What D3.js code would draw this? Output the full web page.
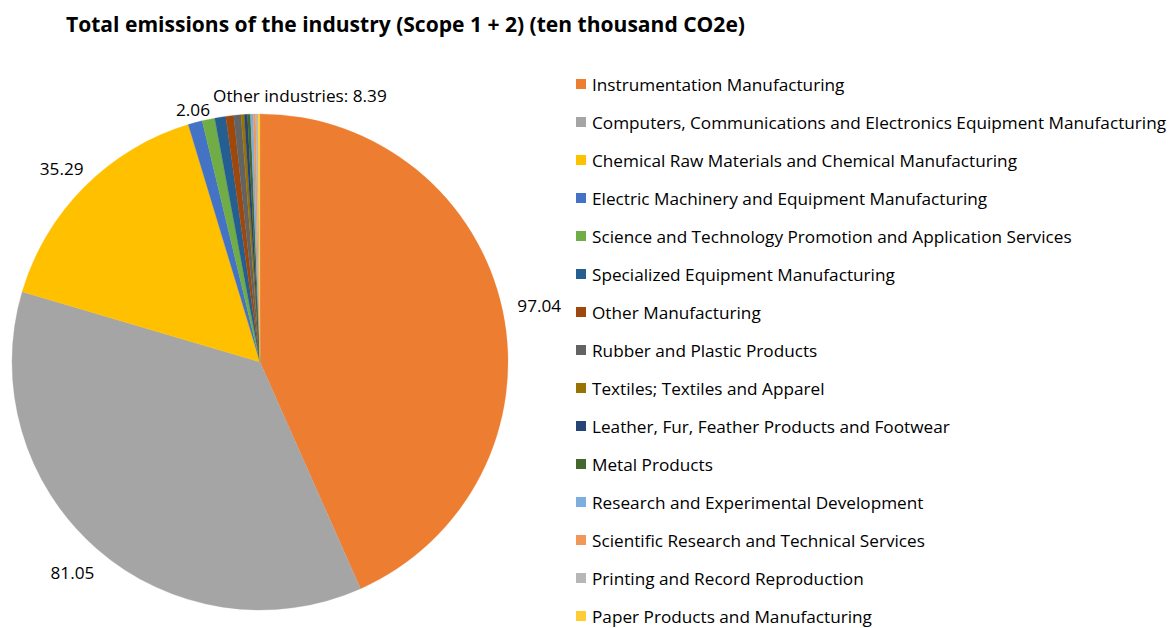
<!DOCTYPE html>
<html lang="en">
<head>
    <meta charset="UTF-8">
    <title>Total emissions of the industry</title>
    <script src="https://cdn.jsdelivr.net/npm/d3@7/dist/d3.min.js"></script>
    <style>
        body { margin: 0; background: #fff; }
        svg { display: block; font-family: "Open Sans", "Noto Sans", sans-serif; }
    </style>
</head>
<body>
    <div class="pie-container"></div>
<script>
    const categories = [
        'Instrumentation Manufacturing',
        'Computers, Communications and Electronics Equipment Manufacturing',
        'Chemical Raw Materials and Chemical Manufacturing',
        'Electric Machinery and Equipment Manufacturing',
        'Science and Technology Promotion and Application Services',
        'Specialized Equipment Manufacturing',
        'Other Manufacturing',
        'Rubber and Plastic Products',
        'Textiles; Textiles and Apparel',
        'Leather, Fur, Feather Products and Footwear',
        'Metal Products',
        'Research and Experimental Development',
        'Scientific Research and Technical Services',
        'Printing and Record Reproduction',
        'Paper Products and Manufacturing'
    ]
    // the first four are labelled in the chart, the rest are estimated from slice widths
    const values = [97.04, 81.05, 35.29, 2.06, 1.85, 1.6, 1.15, 1.05, 0.48, 0.45, 0.44, 0.4, 0.35, 0.35, 0.27]
    const colors = ['#ED7D31', '#A5A5A5', '#FFC000', '#4472C4', '#70AD47', '#255E91', '#9E480E',
        '#636363', '#997300', '#264478', '#43682B', '#7CAFDD', '#F1975A', '#B7B7B7', '#FFCD33']
    const labelled = ['97.04', '81.05', '35.29', '2.06']
    const otherLabel = 'Other industries: 8.39'
    const title = 'Total emissions of the industry (Scope 1 + 2) (ten thousand CO2e)'

    const width = 1176
    const height = 628
    const cx = 260, cy = 362, radius = 248
    const labelPad = [16, 22, 16, 4]

    const svg = d3.select('.pie-container')
        .append('svg')
        .attr('width', width)
        .attr('height', height)

    // fit a text element to a target pixel width
    function fitWidth(sel, target) {
        const w = sel.node().getComputedTextLength()
        const fs = parseFloat(sel.attr('font-size'))
        sel.attr('font-size', (fs * target / w).toFixed(2) + 'px')
    }

    const titleText = svg.append('text')
        .attr('x', 66)
        .attr('y', 32)
        .attr('font-size', '20px')
        .attr('font-weight', 'bold')
        .attr('fill', '#000')
        .text(title)
    fitWidth(titleText, 679)

    const data = categories.map((c, i) => ({ name: c, value: values[i], color: colors[i] }))
    const pie = d3.pie().value(d => d.value).sort(null)
    const pieData = pie(data)
    const arc = d3.arc().innerRadius(0).outerRadius(radius)

    const g = svg.append('g').attr('transform', `translate(${cx}, ${cy})`)
    g.selectAll('path.slice')
        .data(pieData)
        .enter()
        .append('path')
        .attr('class', 'slice')
        .attr('fill', d => d.data.color)
        .attr('stroke', d => d.data.color)
        .attr('stroke-width', 0.3)
        .attr('d', arc)

    // legend
    const legendY = d3.scalePoint().domain(categories).range([84, 616])
    const legend = svg.append('g')
    const items = legend.selectAll('g.item')
        .data(data)
        .enter()
        .append('g')
        .attr('class', 'item')
        .attr('transform', d => `translate(576, ${legendY(d.name)})`)
    items.append('rect')
        .attr('x', 0)
        .attr('y', -5)
        .attr('width', 10)
        .attr('height', 10)
        .attr('fill', d => d.color)
    const legendTexts = items.append('text')
        .attr('x', 16)
        .attr('y', 0)
        .attr('dominant-baseline', 'central')
        .attr('font-size', '16px')
        .attr('fill', '#000')
        .text(d => d.name)

    // scale legend font so the longest line matches the reference width
    const longest = legendTexts.filter((d, i) => i === 1)
    const w = longest.node().getComputedTextLength()
    const fs = (16 * 574 / w).toFixed(2) + 'px'
    legendTexts.attr('font-size', fs)

    // value labels outside the pie: box pushed out along the slice's mid angle
    const values_ = g.selectAll('text.value')
        .data(pieData.slice(0, labelled.length))
        .enter()
        .append('text')
        .attr('class', 'value')
        .attr('text-anchor', 'middle')
        .attr('dominant-baseline', 'central')
        .attr('font-size', fs)
        .attr('fill', '#000')
        .text((d, i) => labelled[i])
    values_.attr('transform', function (d, i) {
        const a = (d.startAngle + d.endAngle) / 2
        const tw = this.getComputedTextLength()
        const r = radius + labelPad[i]
        const x = Math.sin(a) * (r + tw / 2 * Math.abs(Math.sin(a)))
        const y = -Math.cos(a) * r - Math.cos(a) * 10
        return `translate(${x}, ${y})`
    })

    // combined label for the remaining small slices
    const rest = pieData.slice(labelled.length)
    const restArc = { startAngle: rest[0].startAngle, endAngle: rest[rest.length - 1].endAngle }
    const smallArc = d3.arc().innerRadius(radius + 15).outerRadius(radius + 15)
    const rp = smallArc.centroid(restArc)
    g.append('text')
        .attr('x', rp[0])
        .attr('y', rp[1] - 5)
        .attr('dx', -16)
        .attr('text-anchor', 'start')
        .attr('dominant-baseline', 'central')
        .attr('font-size', fs)
        .attr('fill', '#000')
        .text(otherLabel)
</script>
</body>
</html>
